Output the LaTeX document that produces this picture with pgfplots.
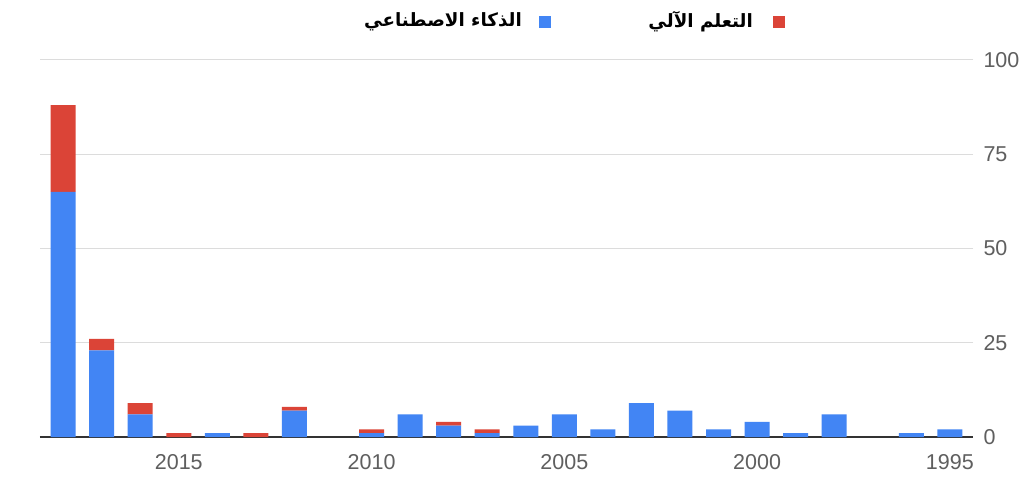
\documentclass[border=0pt]{standalone}
\usepackage{fontspec}
\setmainfont{Liberation Sans}
\newfontfamily\arabicfont[Script=Arabic]{DejaVu Sans}
\TeXXeTstate=1
\usepackage{pgfplots}
\usepackage{pgfplotstable}
\pgfplotsset{compat=1.18}
\definecolor{gblue}{HTML}{4285F4}
\definecolor{gred}{HTML}{DB4437}
\definecolor{tickgray}{HTML}{5F5F5F}
\definecolor{gridgray}{HTML}{DCDCDC}
\definecolor{basegray}{HTML}{333333}

\pgfplotstableread{
year ai ml
2018 65 23
2017 23 3
2016 6 3
2015 0 1
2014 1 0
2013 0 1
2012 7 1
2011 0 0
2010 1 1
2009 6 0
2008 3 1
2007 1 1
2006 3 0
2005 6 0
2004 2 0
2003 9 0
2002 7 0
2001 2 0
2000 4 0
1999 1 0
1998 6 0
1997 0 0
1996 1 0
1995 2 0
}\data

\begin{document}
\begin{tikzpicture}[x=1pt,y=1pt]
\useasboundingbox[fill=white] (0,0) rectangle (1024,479);
\begin{axis}[
  at={(40pt,42pt)}, anchor=south west,
  scale only axis, width=933pt, height=377pt,
  ymin=0, ymax=100, xmin=1994.4, xmax=2018.6,
  x dir=reverse,
  ybar stacked, bar width=25pt,
  axis line style={draw=none},
  tick style={draw=none},
  ytick={0,25,50,75,100},
  xtick={1995,2000,2005,2010,2015},
  ymajorgrids, grid style={gridgray, line width=1pt},
  yticklabel pos=right,
  /pgf/number format/assume math mode=true,
  /pgf/number format/1000 sep={},
  tick label style={font=\fontsize{21.5}{25}\selectfont, text=tickgray},
  yticklabel style={anchor=west, xshift=7pt},
  xticklabel style={anchor=north, yshift=-14pt},
  clip=false,
]
\addplot[fill=gblue, draw=none] table[x=year, y=ai] {\data};
\addplot[fill=gred, draw=none] table[x=year, y=ml] {\data};
\draw[basegray, line width=1.3pt] (axis cs:2018.6,0) -- (axis cs:1994.4,0);
\end{axis}
\node[anchor=east, inner sep=0pt, font=\fontsize{18.3}{21}\selectfont] at (753,457) {\arabicfont\bfseries\beginR التعلم الآلي\endR};
\fill[gred] (773,451) rectangle (785,463);
\node[anchor=east, inner sep=0pt, font=\fontsize{18.3}{21}\selectfont] at (522,457) {\arabicfont\bfseries\beginR الذكاء الاصطناعي\endR};
\fill[gblue] (539,451) rectangle (551,463);
\end{tikzpicture}
\end{document}
